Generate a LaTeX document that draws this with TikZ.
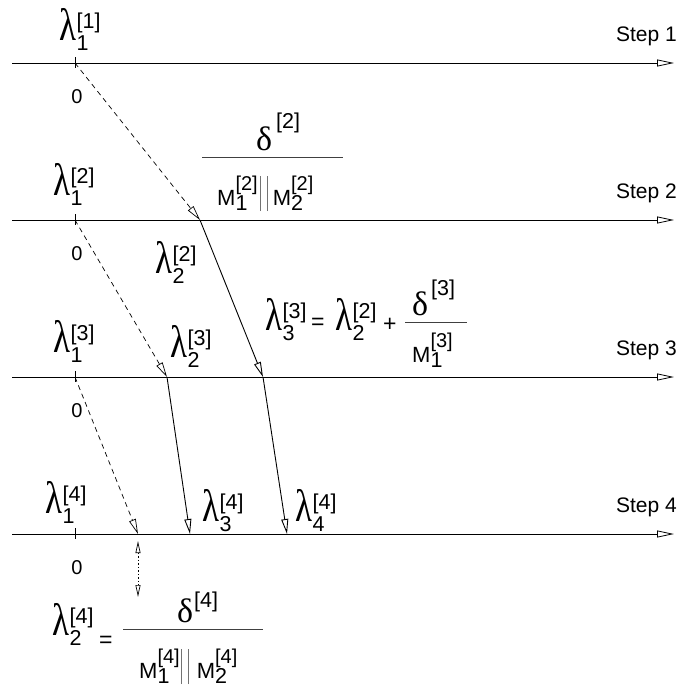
\documentclass[tikz,border=0pt]{standalone}
\usepackage{fontspec}
\setmainfont{Liberation Sans}
\newfontfamily\grk{Liberation Serif}
\usetikzlibrary{arrows.meta}
\newcommand\lamf{\fontsize{35}{35}\selectfont\grk}
\newcommand\delf{\fontsize{34}{34}\selectfont\grk}
\newcommand\ssf{\fontsize{21.5}{21.5}\selectfont}
\newcommand\Lam[2]{\scalebox{1}[1.3]{\lamf λ}\kern0.5pt\rlap{\raisebox{-10pt}{\ssf #1}}\raisebox{12pt}{\ssf[#2]}}
\newcommand\Mm[2]{{\fontsize{22}{22}\selectfont M}\rlap{\raisebox{-5pt}{\ssf #1}}\raisebox{15pt}{\fontsize{20}{20}\selectfont[#2]}}
\newcommand\Del[3]{{\delf δ}\kern#3\raisebox{#1}{\ssf[#2]}}
\newcommand\bars{\textcolor{black!55}{\rule[-6pt]{1pt}{35pt}}\kern6pt\textcolor{black!55}{\rule[-6pt]{1pt}{35pt}}}
\tikzset{
  lbl/.style={inner sep=0pt, anchor=base west},
  steplbl/.style={inner sep=0pt, anchor=base east, font=\fontsize{21}{21}\selectfont},
  zerolbl/.style={inner sep=0pt, anchor=base, font=\fontsize{20}{20}\selectfont},
  opsym/.style={inner sep=0pt, anchor=base west, font=\fontsize{23}{23}\selectfont},
  axis/.style={line width=0.8pt, -{Triangle[open,length=17pt,width=7pt]}},
  tick/.style={line width=0.8pt},
  dasharr/.style={line width=0.7pt, dash pattern=on 5pt off 4pt, -{Triangle[open,length=15pt,width=7pt]}},
  solarr/.style={line width=0.9pt, -{Triangle[open,length=15pt,width=7pt]}},
  dotarr/.style={line width=0.7pt, dash pattern=on 1.2pt off 2.3pt, {Triangle[open,length=12pt,width=5pt]}-{Triangle[open,length=12pt,width=5pt]}},
  fracline/.style={line width=0.9pt, black!75}
}
\begin{document}
\begin{tikzpicture}[x=1pt,y=-1pt]
\useasboundingbox (0,0) rectangle (683,688);
% axes
\foreach \i/\yy in {1/63,2/220,3/377,4/534}{
  \coordinate (a\i) at (12,\yy);
  \coordinate (b\i) at (674,\yy);
  \coordinate (o\i) at (75,\yy);
  \draw[axis] (a\i) -- (b\i);
  \draw[tick] (75,\yy-6) -- (75,\yy+5);
}
\node[steplbl] (st1) at (677,41) {Step 1};
\node[steplbl] (st2) at (677,198) {Step 2};
\node[steplbl] (st3) at (677,355) {Step 3};
\node[steplbl] (st4) at (677,512) {Step 4};
\node[zerolbl] (z1) at (77,103) {0};
\node[zerolbl] (z2) at (77,260) {0};
\node[zerolbl] (z3) at (77,417) {0};
\node[zerolbl] (z4) at (77,574) {0};
% points on axes
\coordinate (p2) at (200,220);
\coordinate (q3) at (167,377);
\coordinate (r3) at (263,377);
\coordinate (q4) at (138,534);
\coordinate (r4) at (190,534);
\coordinate (t4) at (287,534);
\coordinate (u1) at (138,541);
\coordinate (u2) at (138,597);
% connectors
\draw[dasharr] (o1) -- (p2);
\draw[dasharr] (o2) -- (q3);
\draw[dasharr] (o3) -- (q4);
\draw[solarr] (p2) -- (r3);
\draw[solarr] (q3) -- (r4);
\draw[solarr] (r3) -- (t4);
\draw[dotarr] (u1) -- (u2);
% lambda labels
\node[lbl] (l11) at (59,40) {\Lam{1}{1}};
\node[lbl] (l12) at (53,195) {\Lam{1}{2}};
\node[lbl] (l13) at (53,352) {\Lam{1}{3}};
\node[lbl] (l14) at (45,513) {\Lam{1}{4}};
\node[lbl] (l22) at (155,273) {\Lam{2}{2}};
\node[lbl] (l23) at (170,357) {\Lam{2}{3}};
\node[lbl] (l34) at (202,521) {\Lam{3}{4}};
\node[lbl] (l44) at (295,521) {\Lam{4}{4}};
% fraction delta[2]
\draw[fracline] (202,157) -- (343,157);
\node[lbl] (n2) at (256,150) {\Del{22pt}{2}{4pt}};
\node[lbl] (d2) at (217,205) {\Mm{1}{2}\kern2pt\bars\kern5pt\Mm{2}{2}};
% equation lambda3[3]
\node[lbl] (l33) at (265,330) {\Lam{3}{3}};
\node[opsym] (eq3) at (311,329) {=};
\node[lbl] (l22b) at (335,330) {\Lam{2}{2}};
\node[opsym] (pl3) at (383,331) {+};
\draw[fracline] (405,322) -- (467,322);
\node[lbl] (n3) at (412,315) {\Del{20pt}{3}{3pt}};
\node[lbl] (d3) at (412,362) {\Mm{1}{3}};
% equation lambda2[4]
\node[lbl] (l24) at (52,635) {\Lam{2}{4}};
\node[opsym] (eq4) at (99,647) {=};
\draw[fracline] (123,629) -- (263,629);
\node[lbl] (n4) at (177,622) {\Del{15pt}{4}{1pt}};
\node[lbl] (d4) at (139,678) {\Mm{1}{4}\kern1pt\bars\kern8pt\Mm{2}{4}};
\end{tikzpicture}
\end{document}
